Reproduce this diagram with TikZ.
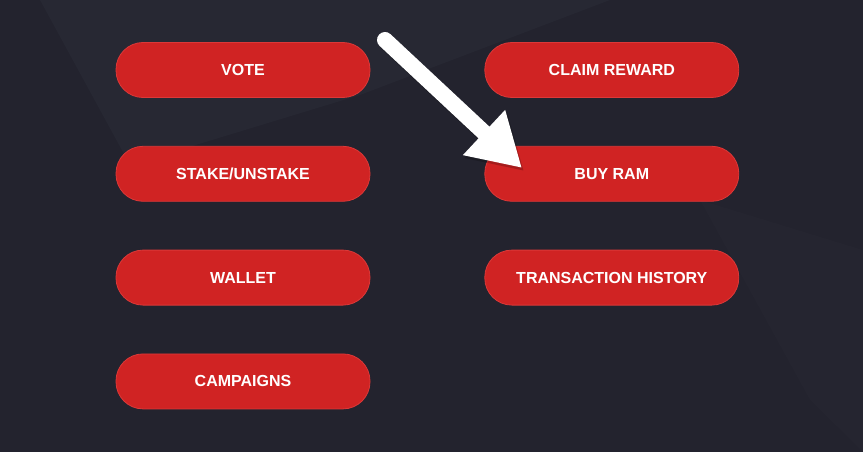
\documentclass[tikz,border=0pt]{standalone}
\usepackage{fontspec}
\setmainfont{Liberation Sans}
\usetikzlibrary{positioning,arrows.meta}
\definecolor{bgdark}{HTML}{23232E}
\definecolor{bglight}{HTML}{272833}
\definecolor{btnred}{HTML}{D02323}
\definecolor{btnrim}{HTML}{DC3838}
\tikzset{
	pill/.style={
		rectangle,
		rounded corners=27pt,
		fill=btnred,
		draw=btnrim,
		line width=0.8pt,
		minimum width=254pt,
		minimum height=55pt,
		text=white,
		font=\fontsize{16}{19}\selectfont\bfseries
	}
}

\begin{document}
\begin{tikzpicture}[x=1pt,y=-1pt]
		\tikzstyle{pointer}=[white, line width=16pt, line cap=round, -{Triangle[length=52pt,width=58pt]}]
		\tikzstyle{shade}=[black, opacity=0.2, line width=16pt, line cap=round, -{Triangle[length=52pt,width=58pt]}]
		% background
		\fill[bgdark] (0,0) rectangle (863,452);
		\fill[bglight] (40,0) -- (130,165) -- (360,95) -- (610,0) -- cycle;
		\fill[bglight!50!bgdark] (700,200) -- (810,400) -- (863,452) -- (863,250) -- cycle;
		\useasboundingbox (0,0) rectangle (863,452);
		
		\node[pill] (vote) at (243,70) {VOTE};
		\node[pill] (stake) [below=48pt of vote] {STAKE/UNSTAKE};
		\node[pill] (wallet) [below=48pt of stake] {WALLET};
		\node[pill] (campaigns) [below=48pt of wallet] {CAMPAIGNS};
		\node[pill] (claim) [right=114pt of vote] {CLAIM REWARD};
		\node[pill] (ram) [below=48pt of claim] {BUY RAM};
		\node[pill] (history) [below=48pt of ram] {TRANSACTION HISTORY};
		
		\coordinate (tail) at (385,40);
		\coordinate (tip) at (522,168);
		\coordinate (tailshade) at (387,43);
		\coordinate (tipshade) at (524,171);
		
		\draw[shade] (tailshade) -- (tipshade);
		\draw[pointer] (tail) -- (tip);
		
\end{tikzpicture}
\end{document}
